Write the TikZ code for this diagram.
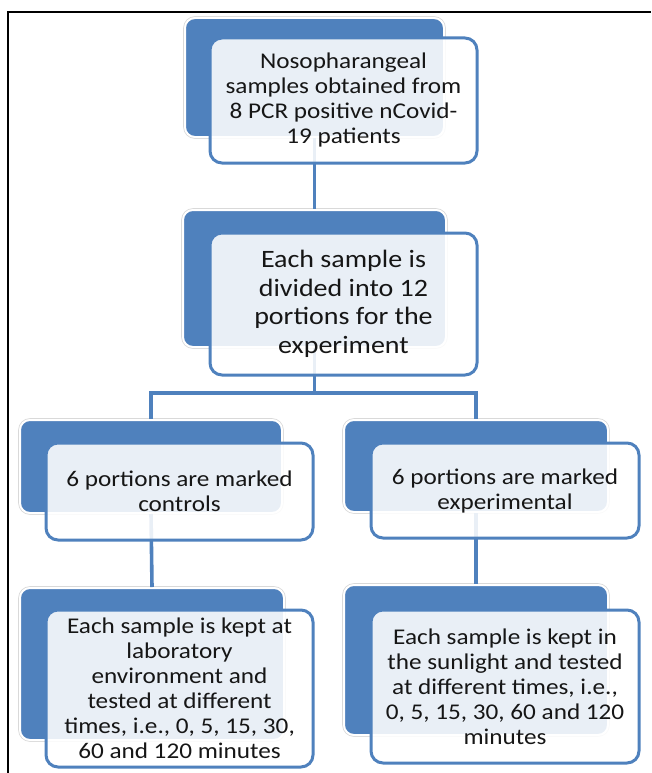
\documentclass[tikz,border=0pt]{standalone}
\usepackage{fontspec}
\setmainfont{Carlito}[FakeStretch=1.12]
\usepackage{xcolor}
\usetikzlibrary{calc}
\definecolor{accent}{HTML}{4F81BD}
\definecolor{ink}{HTML}{161616}
\definecolor{glow}{HTML}{D9D9D9}
\tikzset{
  back/.style={
    rectangle,
    rounded corners=10pt,
    fill=accent,
    draw=white,
    line width=2pt,
    inner sep=0pt,
    preaction={draw=glow, line width=3.6pt}
  },
  front/.style={
    rectangle,
    rounded corners=12pt,
    fill=white,
    fill opacity=0.88,
    text opacity=1,
    draw=accent,
    line width=3pt,
    inner sep=0pt,
    align=center,
    text=ink,
    font=\fontsize{22.5}{25}\selectfont
  },
  big/.style={font=\fontsize{25}{28.5}\selectfont},
  link/.style={draw=accent, line width=3.6pt},
  frame/.style={draw=black, line width=1.6pt}
}

\begin{document}
\begin{tikzpicture}[x=1pt,y=-1pt]
  \useasboundingbox (0,0) rectangle (651,773);
  \draw[frame] (8,773) -- (8,12) -- (651,12);

  % dark blocks behind
  \node[back, minimum width=259, minimum height=119] (samplesB) at (314.5,77.5) {};
  \node[back, minimum width=263, minimum height=137] (divideB) at (314.5,278.5) {};
  \node[back, minimum width=262, minimum height=93] (controlB) at (151,466.5) {};
  \node[back, minimum width=264, minimum height=92] (exptB) at (476,466) {};
  \node[back, minimum width=264, minimum height=152] (labB) at (152,664) {};
  \node[back, minimum width=264, minimum height=150] (sunB) at (476,660) {};

  % connectors
  \coordinate (split) at (314.5,393);
  \draw[link] (samplesB.south) -- (divideB.north);
  \draw[link] (divideB.south) -- (split);
  \draw[link] (controlB.north) |- (split) -| (exptB.north);
  \draw[link] (controlB.south) -- (labB.north);
  \draw[link] (exptB.south) -- (sunB.north);

  % text boxes in front
  \node[front, minimum width=267, minimum height=125] (samples) at (343.5,100.5)
    {Nosopharangeal\\samples obtained from\\8 PCR positive nCovid-\\19 patients};
  \node[front, big, minimum width=267, minimum height=142] (divide) at (343.5,304)
    {Each sample is\\divided into 12\\portions for the\\experiment};
  \node[front, minimum width=267, minimum height=97] (control) at (179.5,491.5)
    {6 portions are marked\\controls};
  \node[front, minimum width=268, minimum height=95] (expt) at (505,490.5)
    {6 portions are marked\\experimental};
  \node[front, minimum width=267, minimum height=157] (lab) at (179.5,688.5)
    {Each sample is kept at\\laboratory\\environment and\\tested at different\\times, i.e., 0, 5, 15, 30,\\60 and 120 minutes};
  \node[front, minimum width=268, minimum height=153] (sun) at (505,686.5)
    {Each sample is kept in\\the sunlight and tested\\at different times, i.e.,\\0, 5, 15, 30, 60 and 120\\minutes};
\end{tikzpicture}
\end{document}
